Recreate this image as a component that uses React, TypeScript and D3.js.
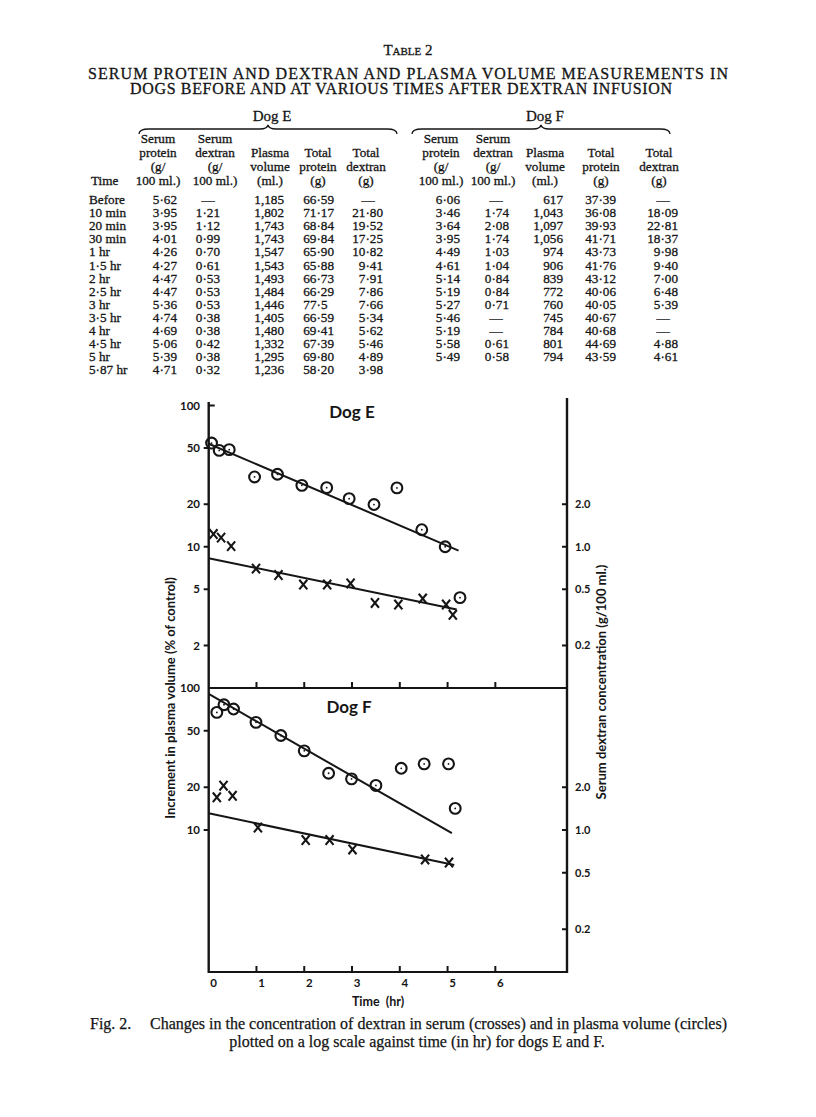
import React from 'react';
import * as d3 from 'd3';

// ---------------- Table data ----------------
const timeLabels = ["Before", "10 min", "20 min", "30 min", "1 hr", "1·5 hr", "2 hr", "2·5 hr", "3 hr", "3·5 hr", "4 hr", "4·5 hr", "5 hr", "5·87 hr"];
const serumProteinE = ["5·62", "3·95", "3·95", "4·01", "4·26", "4·27", "4·47", "4·47", "5·36", "4·74", "4·69", "5·06", "5·39", "4·71"];
const serumDextranE = ["—", "1·21", "1·12", "0·99", "0·70", "0·61", "0·53", "0·53", "0·53", "0·38", "0·38", "0·42", "0·38", "0·32"];
const plasmaVolumeE = ["1,185", "1,802", "1,743", "1,743", "1,547", "1,543", "1,493", "1,484", "1,446", "1,405", "1,480", "1,332", "1,295", "1,236"];
const totalProteinE = ["66·59", "71·17", "68·84", "69·84", "65·90", "65·88", "66·73", "66·29", "77·5", "66·59", "69·41", "67·39", "69·80", "58·20"];
const totalDextranE = ["—", "21·80", "19·52", "17·25", "10·82", "9·41", "7·91", "7·86", "7·66", "5·34", "5·62", "5·46", "4·89", "3·98"];
const serumProteinF = ["6·06", "3·46", "3·64", "3·95", "4·49", "4·61", "5·14", "5·19", "5·27", "5·46", "5·19", "5·58", "5·49", ""];
const serumDextranF = ["—", "1·74", "2·08", "1·74", "1·03", "1·04", "0·84", "0·84", "0·71", "—", "—", "0·61", "0·58", ""];
const plasmaVolumeF = ["617", "1,043", "1,097", "1,056", "974", "906", "839", "772", "760", "745", "784", "801", "794", ""];
const totalProteinF = ["37·39", "36·08", "39·93", "41·71", "43·73", "41·76", "43·12", "40·06", "40·05", "40·67", "40·68", "44·69", "43·59", ""];
const totalDextranF = ["—", "18·09", "22·81", "18·37", "9·98", "9·40", "7·00", "6·48", "5·39", "—", "—", "4·88", "4·61", ""];

const headerLines = [
  ["Serum", "protein", "(g/", "100 ml.)"],
  ["Serum", "dextran", "(g/", "100 ml.)"],
  ["", "Plasma", "volume", "(ml.)"],
  ["", "Total", "protein", "(g)"],
  ["", "Total", "dextran", "(g)"],
];

// ---------------- Chart data ----------------
// Dog E: plasma volume increment (% of control), circles
const circleTimesE = [0.06, 0.22, 0.43, 0.96, 1.44, 1.95, 2.47, 2.94, 3.46, 3.94, 4.46, 4.95, 5.26];
const plasmaIncE = [54.2, 48.1, 48.7, 31.2, 32.6, 27.2, 26.2, 21.9, 19.9, 26.1, 13.2, 10.0, 4.36];
// Dog E: serum dextran (g/100 ml.), crosses
const crossTimesE = [0.10, 0.26, 0.47, 0.99, 1.46, 1.98, 2.48, 2.97, 3.48, 3.97, 4.48, 4.97, 5.11];
const dextranE = [1.23, 1.16, 1.01, 0.70, 0.63, 0.54, 0.54, 0.55, 0.40, 0.39, 0.43, 0.39, 0.33];
// Dog F
const circleTimesF = [0.17, 0.32, 0.52, 0.99, 1.51, 2.0, 2.51, 2.99, 3.5, 4.03, 4.51, 5.02, 5.16];
const plasmaIncF = [67.3, 76.2, 71.1, 57.3, 46.3, 36.1, 25.1, 22.9, 20.6, 27.2, 29.2, 29.2, 14.2];
const crossTimesF = [0.17, 0.31, 0.5, 1.03, 2.03, 2.53, 3.01, 4.53, 5.03];
const dextranF = [1.70, 2.05, 1.74, 1.04, 0.85, 0.85, 0.73, 0.62, 0.59];
// fitted lines [t, value]
const fitCircleE: [number, number][] = [[0, 53.6], [5.23, 9.4]];
const fitCrossE: [number, number][] = [[0, 0.83], [5.19, 0.36]];
const fitCircleF: [number, number][] = [[0, 90.8], [5.09, 9.5]];
const fitCrossF: [number, number][] = [[0, 1.31], [5.14, 0.566]];

const xTicks = [0, 1, 2, 3, 4, 5, 6];
const leftTicksTop = [100, 50, 20, 10, 5, 2];
const leftTicksBottom = [100, 50, 20, 10];
const rightTicks = [2, 1, 0.5, 0.2];

const SERIF = "'Liberation Serif', 'Times New Roman', serif";
const SANS = "Lato, 'Open Sans', sans-serif";
const INK = "#151515";

function Brace({ x1, x2, y }: { x1: number; x2: number; y: number }) {
  const m = (x1 + x2) / 2;
  const d = `M${x1},${y + 5} Q${x1},${y} ${x1 + 10},${y} L${m - 8},${y} Q${m - 1},${y} ${m},${y - 4} Q${m + 1},${y} ${m + 8},${y} L${x2 - 10},${y} Q${x2},${y} ${x2},${y + 5}`;
  return <path d={d} fill="none" stroke={INK} strokeWidth={1.3} />;
}

function TableBlock() {
  const rowY = (i: number) => 204 + i * 13.1;
  const headY = [143, 157, 171, 185];
  const centersE = [158, 215, 270, 318, 366];
  const centersF = [441, 493, 545, 601, 659];
  const rightsE = [177, 220, 284, 334, 383];
  const rightsF = [460, 509, 563, 616, 678];
  const dashE = [167, 208, 272, 320, 368];
  const dashF = [449, 496, 553, 602, 663];
  const colsE = [serumProteinE, serumDextranE, plasmaVolumeE, totalProteinE, totalDextranE];
  const colsF = [serumProteinF, serumDextranF, plasmaVolumeF, totalProteinF, totalDextranF];

  const renderCols = (cols: string[][], centers: number[], rights: number[], dashes: number[], key: string) =>
    cols.map((col, ci) => (
      <g key={key + ci}>
        {headerLines[ci].map((h, hi) =>
          h ? (
            <text key={hi} x={centers[ci]} y={headY[hi]} textAnchor="middle">{h}</text>
          ) : null
        )}
        {col.map((v, ri) => {
          if (!v) return null;
          if (v === "—") return <text key={"v" + ri} x={dashes[ci]} y={rowY(ri)} textAnchor="middle">—</text>;
          const parts = v.split("·");
          const shift = parts.length === 2 && parts[1].length === 1 ? 6.5 : 0;
          return <text key={"v" + ri} x={rights[ci] - shift} y={rowY(ri)} textAnchor="end">{v}</text>;
        })}
      </g>
    ));

  return (
    <g fontFamily={SERIF} fill={INK} stroke={INK} strokeWidth={0.3} fontSize={13.2}>
      <text x={408} y={55} textAnchor="middle" fontSize={15} style={{ fontVariant: 'small-caps' }}>Table 2</text>
      <text x={408} y={79} textAnchor="middle" fontSize={16} textLength={640} lengthAdjust="spacing">SERUM PROTEIN AND DEXTRAN AND PLASMA VOLUME MEASUREMENTS IN</text>
      <text x={401} y={94} textAnchor="middle" fontSize={16} textLength={542} lengthAdjust="spacing">DOGS BEFORE AND AT VARIOUS TIMES AFTER DEXTRAN INFUSION</text>
      <text x={272} y={121} textAnchor="middle" fontSize={15}>Dog E</text>
      <text x={545} y={121} textAnchor="middle" fontSize={15}>Dog F</text>
      <g strokeWidth={0}>
        <Brace x1={139} x2={397} y={129} />
        <Brace x1={412} x2={670} y={129} />
      </g>
      <text x={91} y={headY[3]}>Time</text>
      {timeLabels.map((t, i) => (
        <text key={t} x={89} y={rowY(i)}>{t}</text>
      ))}
      {renderCols(colsE, centersE, rightsE, dashE, "E")}
      {renderCols(colsF, centersF, rightsF, dashF, "F")}
    </g>
  );
}

function Circles({ ts, vs, x, y }: { ts: number[]; vs: number[]; x: any; y: any }) {
  return (
    <g>
      {ts.map((t, i) => (
        <g key={i} transform={`translate(${x(t)},${y(vs[i])})`}>
          <circle r={5.4} fill="none" stroke={INK} strokeWidth={2.1} />
          <circle r={0.9} fill={INK} />
        </g>
      ))}
    </g>
  );
}

function Crosses({ ts, vs, x, y }: { ts: number[]; vs: number[]; x: any; y: any }) {
  return (
    <g>
      {ts.map((t, i) => (
        <path key={i} transform={`translate(${x(t)},${y(vs[i])})`} d="M-4,-4.8L4,4.8M-4,4.8L4,-4.8" stroke={INK} strokeWidth={2.1} fill="none" />
      ))}
    </g>
  );
}

function Chart() {
  const x = d3.scaleLinear().domain([0, 7.5]).range([208.7, 567]);
  const yTopL = d3.scaleLog().domain([100, 1]).range([405.5, 688]);
  const yTopR = d3.scaleLog().domain([10, 0.1]).range([405.5, 688]);
  const yBotL = d3.scaleLog().domain([100, 1]).range([688, 972]);
  const yBotR = d3.scaleLog().domain([10, 0.1]).range([688, 972]);
  const x0 = x(0), x1 = x(7.5);
  const line = (yS: any) => d3.line<[number, number]>().x(d => x(d[0])).y(d => yS(d[1]));

  const panels = [
    { yl: yTopL, yr: yTopR, lt: leftTicksTop, bottom: 688 },
    { yl: yBotL, yr: yBotR, lt: leftTicksBottom, bottom: 972 },
  ];

  return (
    <g fill={INK} fontFamily={SANS} fontWeight={700}>
      {/* axes */}
      <line x1={x0} x2={x0} y1={402} y2={973} stroke={INK} strokeWidth={2.4} />
      <line x1={x0} x2={x0 + 6} y1={yTopL(100)} y2={yTopL(100)} stroke={INK} strokeWidth={2} />
      <line x1={x1} x2={x1} y1={398} y2={973} stroke={INK} strokeWidth={2.4} />
      {panels.map((p, pi) => (
        <g key={pi}>
          <line x1={x0} x2={x1} y1={p.bottom} y2={p.bottom} stroke={INK} strokeWidth={2.2} />
          {xTicks.filter(t => t > 0).map(t => (
            <line key={t} x1={x(t)} x2={x(t)} y1={p.bottom} y2={p.bottom - 6} stroke={INK} strokeWidth={2} />
          ))}
          {p.lt.map(v => (
            <g key={v}>
              {v !== 100 && (
                <line x1={x0 - 5} x2={x0} y1={p.yl(v)} y2={p.yl(v)} stroke={INK} strokeWidth={2} />
              )}
              <text x={200} y={p.yl(v)} dy="0.35em" textAnchor="end" fontSize={11.5}>{v}</text>
            </g>
          ))}
          {rightTicks.map(v => (
            <g key={v}>
              <line x1={x1 - 5} x2={x1} y1={p.yr(v)} y2={p.yr(v)} stroke={INK} strokeWidth={2} />
              <text x={575} y={p.yr(v)} dy="0.35em" fontSize={11}>{v.toFixed(1)}</text>
            </g>
          ))}
        </g>
      ))}
      {xTicks.map(t => (
        <text key={t} x={x(t) + 5} y={987} textAnchor="middle" fontSize={11.5}>{t}</text>
      ))}
      <text x={378} y={1006} textAnchor="middle" fontSize={12.5} style={{ whiteSpace: 'pre' }}>Time  (hr)</text>
      <text transform="translate(175,698) rotate(-90)" textAnchor="middle" fontSize={13}>Increment in plasma volume (% of control)</text>
      <text transform="translate(606,682) rotate(-90)" textAnchor="middle" fontSize={13}>Serum dextran concentration (g/100 ml.)</text>
      <text x={352} y={418} textAnchor="middle" fontSize={17}>Dog E</text>
      <text x={349} y={713} textAnchor="middle" fontSize={17}>Dog F</text>

      {/* fitted lines */}
      <path d={line(yTopL)(fitCircleE) || ''} stroke={INK} strokeWidth={2} fill="none" />
      <path d={line(yTopR)(fitCrossE) || ''} stroke={INK} strokeWidth={2} fill="none" />
      <path d={line(yBotL)(fitCircleF) || ''} stroke={INK} strokeWidth={2} fill="none" />
      <path d={line(yBotR)(fitCrossF) || ''} stroke={INK} strokeWidth={2} fill="none" />

      <Circles ts={circleTimesE} vs={plasmaIncE} x={x} y={yTopL} />
      <Crosses ts={crossTimesE} vs={dextranE} x={x} y={yTopR} />
      <Circles ts={circleTimesF} vs={plasmaIncF} x={x} y={yBotL} />
      <Crosses ts={crossTimesF} vs={dextranF} x={x} y={yBotR} />
    </g>
  );
}

export default function App() {
  return (
    <svg width={816} height={1117} viewBox="0 0 816 1117" style={{ position: 'absolute', left: 0, top: 0, background: '#fff' }}>
      <rect width={816} height={1117} fill="#fff" />
      <TableBlock />
      <Chart />
      <g fontFamily={SERIF} fontSize={16} fill={INK} stroke={INK} strokeWidth={0.25}>
        <text x={90} y={1029}>Fig. 2.</text>
        <text x={150} y={1029} textLength={577} lengthAdjust="spacing">Changes in the concentration of dextran in serum (crosses) and in plasma volume (circles)</text>
        <text x={417} y={1047} textAnchor="middle">plotted on a log scale against time (in hr) for dogs E and F.</text>
      </g>
    </svg>
  );
}
